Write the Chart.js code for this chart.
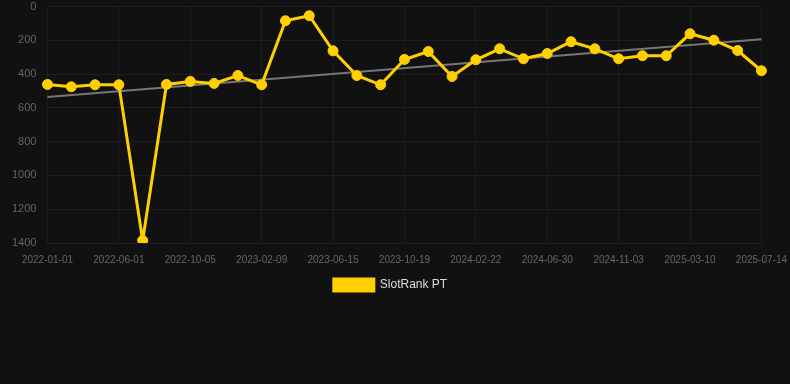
<!DOCTYPE html>
<html>
<head>
<meta charset="utf-8">
<script src="https://cdn.jsdelivr.net/npm/chart.js@4"></script>
<style>
  html, body { margin: 0; padding: 0; background: #111111; }
  #wrap { width: 790px; height: 301px; position: relative; }
</style>
</head>
<body>
<div id="wrap"><canvas id="c"></canvas></div>
<script>
const categories = [
  "2022-01-01","2022-02-20","2022-04-11","2022-06-01","2022-07-13","2022-08-24",
  "2022-10-05","2022-11-16","2022-12-29","2023-02-09","2023-03-23","2023-05-04",
  "2023-06-15","2023-07-27","2023-09-07","2023-10-19","2023-11-30","2024-01-11",
  "2024-02-22","2024-04-04","2024-05-17","2024-06-30","2024-08-11","2024-09-22",
  "2024-11-03","2024-12-15","2025-01-26","2025-03-10","2025-04-21","2025-06-02",
  "2025-07-14"
];
const rankValues = [
  461, 475, 463, 463, 1385, 461, 443, 455, 408, 463, 84, 54, 262, 408, 463,
  313, 266, 414, 315, 250, 309, 278, 208, 250, 309, 291, 291, 161, 199, 260, 380
];
const trendStart = 535;
const trendEnd = 193;
const yTicks = [0, 200, 400, 600, 800, 1000, 1200, 1400];

const trendData = categories.map((c, i) =>
  i === 0 ? trendStart : (i === categories.length - 1 ? trendEnd : null));

new Chart(document.getElementById('c'), {
  type: 'line',
  data: {
    labels: categories,
    datasets: [
      {
        label: 'SlotRank PT',
        data: rankValues,
        borderColor: '#FFD000',
        backgroundColor: '#FFD000',
        borderWidth: 3,
        pointRadius: 5,
        pointBorderWidth: 1,
        pointBackgroundColor: '#FFD000',
        pointBorderColor: '#FFD000',
        tension: 0,
        fill: false
      },
      {
        label: 'trend',
        data: trendData,
        borderColor: 'rgba(130,130,130,0.9)',
        borderWidth: 2,
        pointRadius: 0,
        spanGaps: true,
        fill: false
      }
    ]
  },
  options: {
    responsive: true,
    maintainAspectRatio: false,
    animation: false,
    layout: { padding: { left: 12, right: 21 } },
    plugins: {
      legend: {
        position: 'bottom',
        labels: {
          color: '#dddddd',
          font: { size: 12 },
          filter: (item) => item.text !== 'trend'
        }
      },
      tooltip: { enabled: false }
    },
    scales: {
      x: {
        grid: { color: 'rgba(255,255,255,0.05)', tickColor: 'rgba(0,0,0,0)' },
        border: { display: false },
        ticks: {
          color: '#666666',
          font: { size: 10 },
          maxRotation: 0,
          autoSkip: true
        }
      },
      y: {
        reverse: true,
        min: yTicks[0],
        max: yTicks[yTicks.length - 1],
        grid: { color: 'rgba(255,255,255,0.05)', tickColor: 'rgba(0,0,0,0)', tickLength: 11 },
        border: { display: false },
        afterBuildTicks: (axis) => { axis.ticks = yTicks.map(v => ({ value: v })); },
        ticks: {
          color: '#666666',
          font: { size: 11 },
          padding: 0,
          callback: (v) => String(v)
        }
      }
    }
  }
});
</script>
</body>
</html>
